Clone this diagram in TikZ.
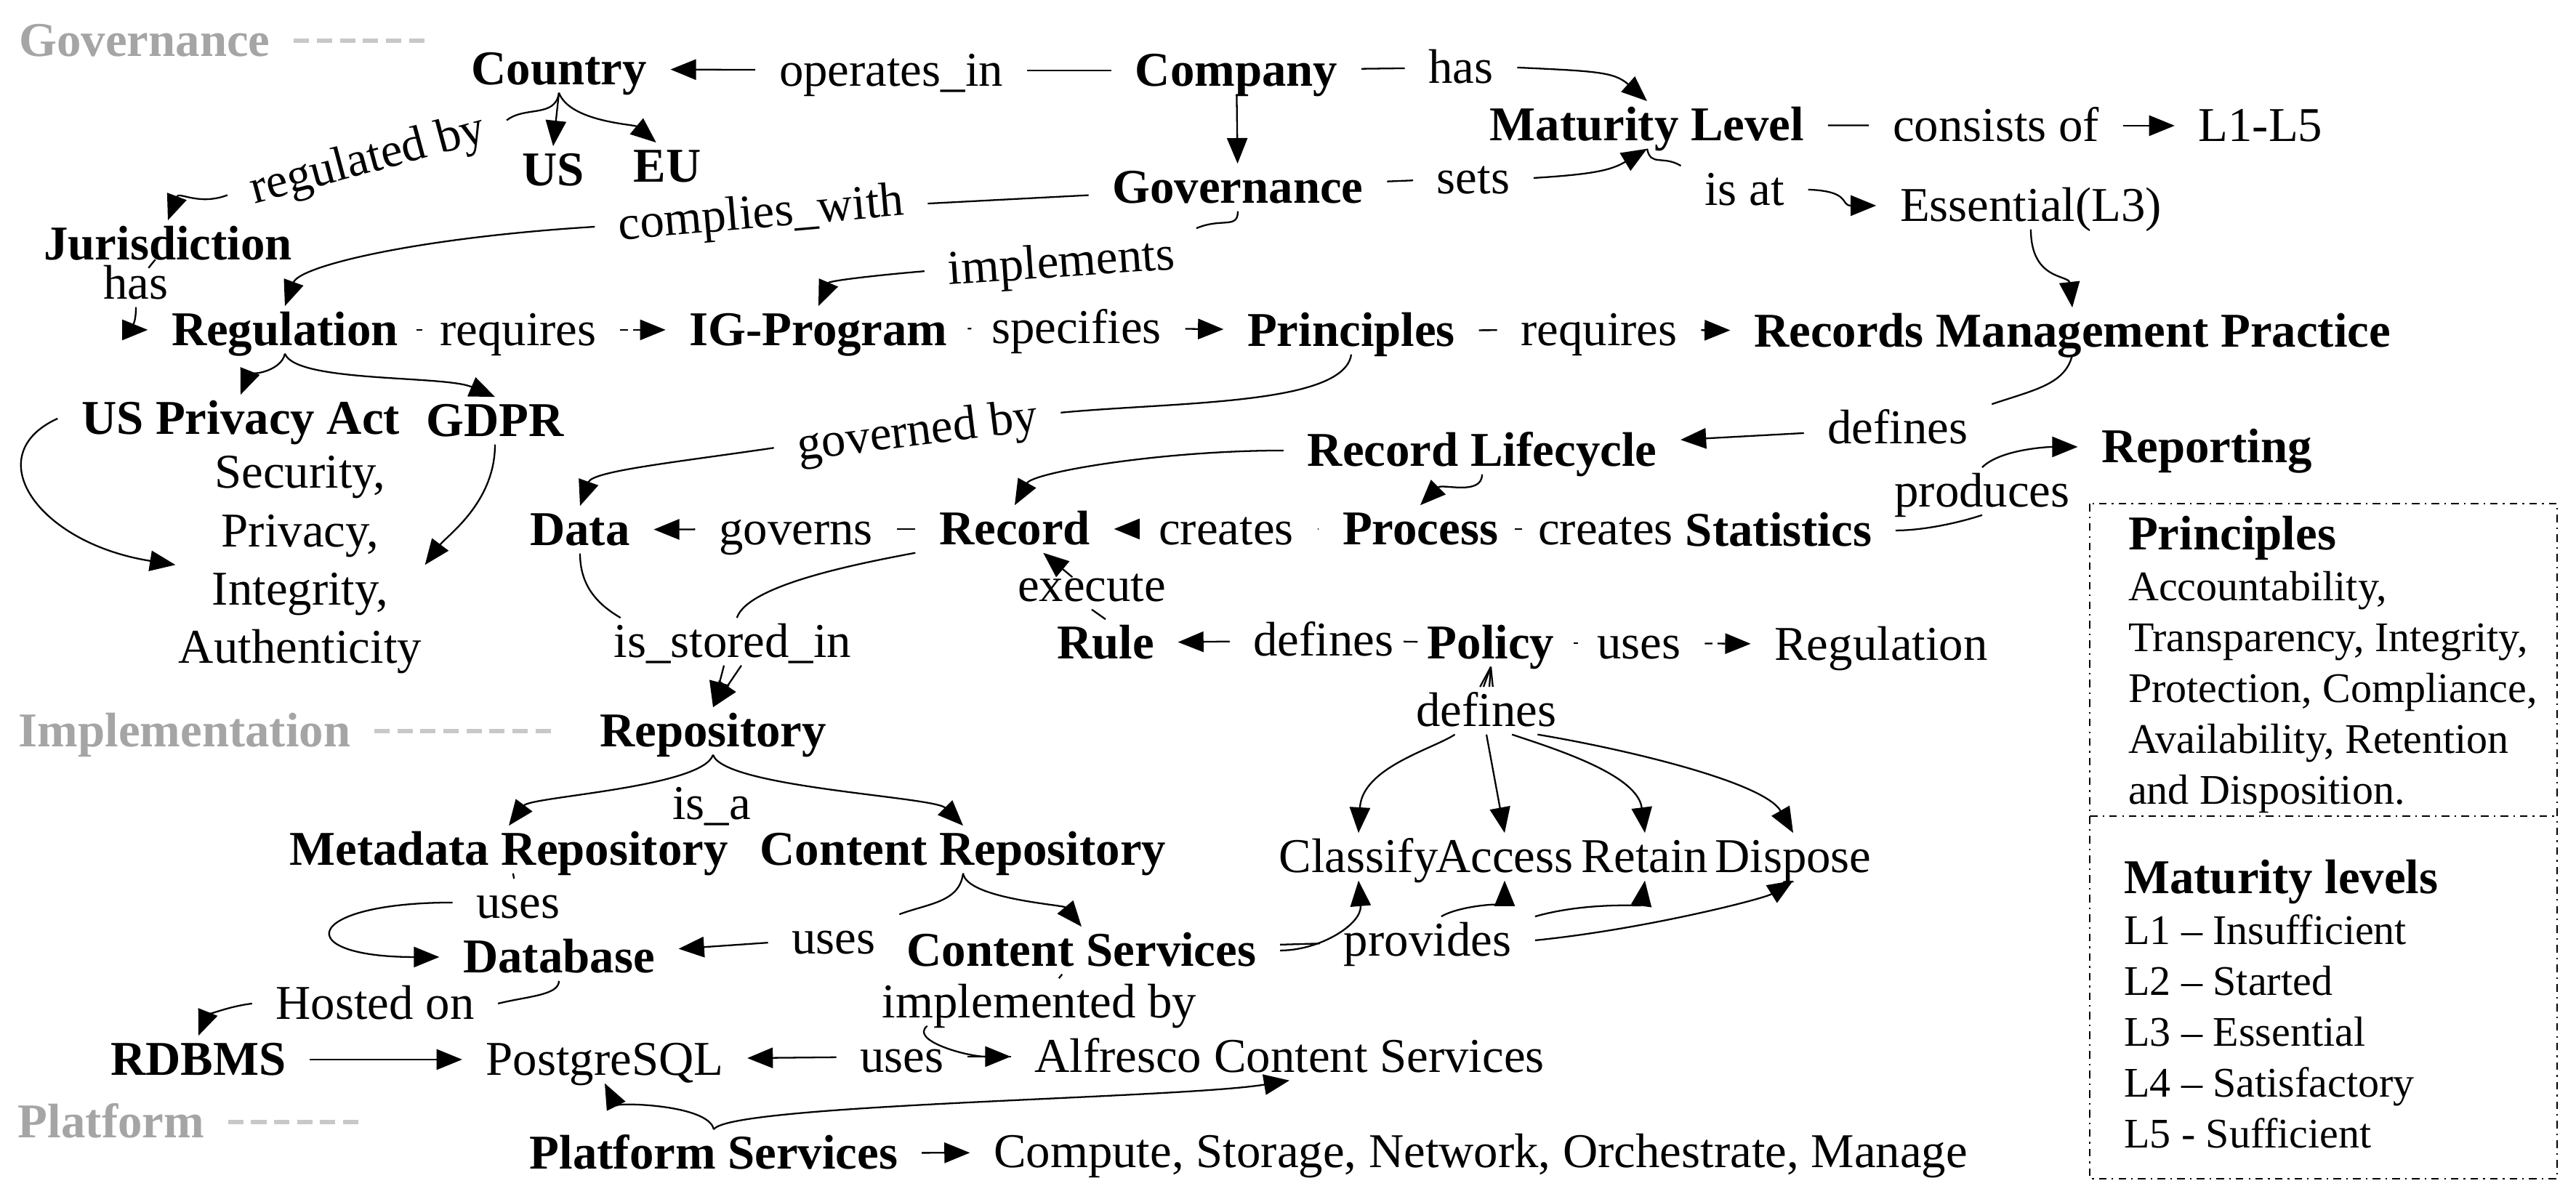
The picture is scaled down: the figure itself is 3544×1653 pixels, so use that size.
\documentclass[tikz,border=0pt]{standalone}
\usepackage{fontspec}
\setmainfont{Liberation Serif}
\usetikzlibrary{arrows.meta}
\definecolor{layergray}{RGB}{165,165,165}
\definecolor{layerdash}{RGB}{200,200,200}

\begin{document}
\begin{tikzpicture}[x=0.01cm, y=-0.01cm, line width=0.65pt, >={Triangle[length=10pt,width=8pt]},
	word/.style={font=\fontsize{19}{22.8}\selectfont, inner xsep=9pt, inner ysep=1pt, text height=14pt, text depth=2pt, anchor=base},
	ent/.style={word, font=\fontsize{19}{22.8}\selectfont\bfseries},
	val/.style={word},
	rel/.style={word},
	layer/.style={ent, text=layergray},
	layerline/.style={layerdash, line width=1.5pt, dash pattern=on 6pt off 3pt},
	legend/.style={anchor=north west, align=left, inner sep=0pt, font=\fontsize{16.5}{19.9}\selectfont}]
			\useasboundingbox (0,0) rectangle (3544,1653);
			\node[layer](govLayer) at (199,77){Governance};
			\node[layer](implLayer) at (254,1027){Implementation};
			\node[layer](platLayer) at (153,1565){Platform};
			\draw[layerline] (govLayer.east) -- ++(180,0);
			\draw[layerline] (implLayer.east) -- ++(250,0);
			\draw[layerline] (platLayer.east) -- ++(180,0);
			\node[ent](country) at (769,116){Country};
			\node[ent](us) at (761,255){US};
			\node[ent](eu) at (918,250){EU};
			\node[ent](jurisdiction) at (231,357){Jurisdiction};
			\node[ent](regulation) at (392,475){Regulation};
			\node[ent](igprogram) at (1126,475){IG-Program};
			\node[ent](principles) at (1859,476){Principles};
			\node[ent](rmp) at (2851,477){Records Management Practice};
			\node[ent](company) at (1701,118){Company};
			\node[ent](maturity) at (2266,193){Maturity Level};
			\node[ent](governance) at (1703,279){Governance};
			\node[ent](usPrivacy) at (331,597){US Privacy Act};
			\node[ent](gdpr) at (681,600){GDPR};
			\node[ent](data) at (798,750){Data};
			\node[ent](record) at (1396,749){Record};
			\node[ent](process) at (1954,749){Process};
			\node[ent](statistics) at (2447,751){Statistics};
			\node[ent](reclife) at (2039,641){Record Lifecycle};
			\node[ent](reporting) at (3036,636){Reporting};
			\node[ent](rule) at (1521,906){Rule};
			\node[ent](policy) at (2051,906){Policy};
			\node[ent](repository) at (981,1027){Repository};
			\node[ent](metaRepo) at (700,1190){Metadata Repository};
			\node[ent](contentRepo) at (1325,1190){Content Repository};
			\node[ent](database) at (769,1338){Database};
			\node[ent](contentServ) at (1488,1329){Content Services};
			\node[ent](rdbms) at (273,1479){RDBMS};
			\node[ent](platform) at (982,1608){Platform Services};
			\node[val](l15) at (3110,194){L1-L5};
			\node[val](essential) at (2794,304){Essential(L3)};
			\node[font=\fontsize{19}{22.8}\selectfont, align=center, inner sep=1pt, anchor=north](secNode) at (413,623){Security,\\Privacy,\\Integrity,\\Authenticity};
			\node[val](regPlain) at (2588,908){Regulation};
			\node[val](classify) at (1869,1200){Classify};
			\node[val](access) at (2070,1200){Access};
			\node[val](retain) at (2263,1200){Retain};
			\node[val](dispose) at (2467,1200){Dispose};
			\node[val](postgres) at (832,1479){PostgreSQL};
			\node[val](alfresco) at (1774,1475){Alfresco Content Services};
			\node[val](compute) at (2037,1606){Compute, Storage, Network, Orchestrate, Manage};
			\node[rel](opIn) at (1226,118){operates\_in};
			\node[rel](hasML) at (2010,114){has};
			\node[rel](setsML) at (2027,266){sets};
			\node[rel](isAt) at (2400,282){is at};
			\node[rel](consists) at (2746,194){consists of};
			\node[rel, anchor=center, rotate=15](regBy) at (505,217){regulated by};
			\node[rel](hasReg) at (187,411){has};
			\node[rel, anchor=center, rotate=5](compliesWith) at (1047,292){complies\_with};
			\node[rel, anchor=center, rotate=4](implements) at (1460,360){implements};
			\node[rel](req1) at (713,475){requires};
			\node[rel](specifies) at (1481,472){specifies};
			\node[rel](req2) at (2200,475){requires};
			\node[rel, anchor=center, rotate=7](governedBy) at (1262,592){governed by};
			\node[rel](defRL) at (2611,610){defines};
			\node[rel](produces) at (2727,697){produces};
			\node[rel](governs) at (1095,749){governs};
			\node[rel](creates1) at (1687,749){creates};
			\node[rel](creates2) at (2209,749){creates};
			\node[rel, text height=8pt](execute) at (1502,827){execute};
			\node[rel](defRule) at (1821,902){defines};
			\node[rel](usesReg) at (2255,906){uses};
			\node[rel](defAll) at (2045,999){defines};
			\node[rel](isStored) at (1008,904){is\_stored\_in};
			\node[rel](isA) at (979,1127){is\_a};
			\node[rel](usesDB) at (713,1263){uses};
			\node[rel](usesCR) at (1147,1312){uses};
			\node[rel](provides) at (1964,1315){provides};
			\node[rel](implBy) at (1430,1400){implemented by};
			\node[rel](hostedOn) at (516,1402){Hosted on};
			\node[rel](usesPG) at (1241,1475){uses};
			\draw (company) -- (opIn);
			\draw[->] (opIn) -- (country);
			\draw (company) -- (hasML);
			\draw[->] (hasML.east) .. controls +(110,5) and +(-45,-40) .. (maturity.north);
			\draw[->] (company) -- (governance);
			\draw (governance) -- (setsML);
			\draw[->] (setsML.east) .. controls +(80,-5) and +(-50,30) .. (maturity.south);
			\draw (maturity.south) .. controls +(5,25) and +(-25,-15) .. (isAt.north west);
			\draw[->] (isAt.east) .. controls +(60,2) and +(-50,0) .. (essential.west);
			\draw (maturity) -- (consists);
			\draw[->] (consists) -- (l15);
			\draw[->] (essential.south) .. controls +(0,70) and +(-5,-45) .. (rmp.north);
			\draw[->] (country.south) -- (us.north);
			\draw[->] (country.south) .. controls +(15,40) and +(-30,-25) .. (eu.115);
			\draw (country.south) .. controls +(-5,35) and +(25,-20) .. (regBy.east);
			\draw[->] (regBy.west) .. controls +(-40,15) and +(15,-40) .. (jurisdiction.north);
			\draw (jurisdiction) -- (hasReg);
			\draw[->] (hasReg.south) .. controls +(0,30) and +(-25,0) .. (regulation.west);
			\draw (governance) -- (compliesWith);
			\draw[->] (compliesWith.west) .. controls +(-245,15) and +(20,-55) .. (regulation.north);
			\draw (governance.south) .. controls +(0,25) and +(35,-15) .. (implements.north east);
			\draw[->] (implements.west) .. controls +(-60,5) and +(15,-35) .. (igprogram.north);
			\draw[densely dashed] (regulation) -- (req1);
			\draw[densely dashed,->] (req1) -- (igprogram);
			\draw (igprogram) -- (specifies);
			\draw[->] (specifies) -- (principles);
			\draw (principles) -- (req2);
			\draw[->] (req2) -- (rmp);
			\draw (principles.south) .. controls +(-10,70) and +(160,-15) .. (governedBy.east);
			\draw[->] (governedBy.west) .. controls +(-136,20) and +(17,-48) .. (data.north);
			\draw (rmp.south) .. controls +(-10,40) and +(60,-20) .. (defRL.north east);
			\draw[->] (defRL) -- (reclife);
			\draw[->] (reclife.west) .. controls +(-170,0) and +(25,-45) .. (record.north);
			\draw[->] (reclife.south) .. controls +(0,30) and +(30,-30) .. (process.north);
			\draw (process) -- (creates1);
			\draw[->] (creates1) -- (record);
			\draw (process) -- (creates2);
			\draw (statistics.east) .. controls +(40,0) and +(-30,10) .. (produces.south);
			\draw[->] (produces.north) .. controls +(25,-25) and +(-40,0) .. (reporting.west);
			\draw (record) -- (governs);
			\draw[->] (governs) -- (data);
			\draw (data.south) .. controls +(0,50) and +(-25,-15) .. (isStored.168);
			\draw (record.south west) .. controls +(-80,15) and +(15,-45) .. (isStored.80);
			\draw[->] (isStored.250) -- (repository.north);
			\draw[->] (isStored.290) -- (repository.north);
			\draw (rule.north) -- (execute.south);
			\draw[->] (execute) -- (record);
			\draw (policy) -- (defRule);
			\draw[->] (defRule) -- (rule);
			\draw[densely dashed] (policy) -- (usesReg);
			\draw[densely dashed,->] (usesReg) -- (regPlain);
			\draw (policy.south) -- (defAll.105);
			\draw (policy.south) -- (defAll.97);
			\draw (policy.south) -- (defAll.83);
			\draw (policy.south) -- (defAll.75);
			\draw[->] (defAll.217) .. controls +(-30,20) and +(5,-90) .. (classify.north);
			\draw[->] (defAll.south) -- (access.north);
			\draw[->] (defAll.317) .. controls +(60,20) and +(-10,-80) .. (retain.north);
			\draw[->] (defAll.335) .. controls +(120,20) and +(-40,-70) .. (dispose.north);
			\draw[->] (contentServ.east) .. controls +(55,0) and +(5,60) .. (classify.south);
			\draw (contentServ) -- (provides);
			\draw[->] (provides.60) .. controls +(25,-15) and +(0,30) .. (access.south);
			\draw[->] (provides.north east) .. controls +(70,-20) and +(-5,35) .. (retain.south);
			\draw[->] (provides.east) .. controls +(150,-15) and +(-40,25) .. (dispose.south);
			\draw[->] (repository.south) .. controls +(-15,45) and +(30,-40) .. (metaRepo.north);
			\draw[->] (repository.south) .. controls +(15,45) and +(-40,-40) .. (contentRepo.north);
			\draw (metaRepo) -- (usesDB);
			\draw[->] (usesDB.west) .. controls +(-207,0) and +(-207,0) .. (database.west);
			\draw (contentRepo.south) .. controls +(-5,40) and +(40,-15) .. (usesCR.north east);
			\draw[->] (usesCR) -- (database);
			\draw[->] (contentRepo.south) .. controls +(5,35) and +(-25,-30) .. (contentServ.north);
			\draw (database.south) .. controls +(0,20) and +(40,-10) .. (hostedOn.east);
			\draw[->] (hostedOn.west) .. controls +(-40,5) and +(10,-25) .. (rdbms.north);
			\draw[->] (rdbms) -- (postgres);
			\draw (alfresco) -- (usesPG);
			\draw[->] (usesPG) -- (postgres);
			\draw (contentServ) -- (implBy);
			\draw[->] (implBy.192) .. controls +(-25,20) and +(-60,0) .. (alfresco.west);
			\draw[->] (platform.north) .. controls +(-7,-35) and +(13,26) .. (postgres.south);
			\draw[->] (platform.north) .. controls +(20,-35) and +(-150,25) .. (alfresco.south);
			\draw[->] (platform) -- (compute);
			\draw[->] (usPrivacy.west) .. controls +(-110,50) and +(-190,-30) .. (secNode.west);
			\draw[->] (gdpr.south) .. controls +(0,80) and +(30,-40) .. (secNode.east);
			\draw[->] (regulation.south) .. controls +(-5,25) and +(10,-25) .. (usPrivacy.north);
			\draw[->] (regulation.south) .. controls +(15,40) and +(-70,-30) .. (gdpr.north);
			\draw[dashdotted, line width=0.5pt] (2875,693) rectangle (3518,1622);
			\draw[dashdotted, line width=0.5pt] (2875,1123) -- (3518,1123);
			\node[legend](legPrin) at (2927,709){{\fontsize{19}{19.9}\selectfont\bfseries Principles}\\Accountability,\\Transparency, Integrity,\\Protection, Compliance,\\Availability, Retention\\and Disposition.};
			\node[legend](legMat) at (2921,1182){{\fontsize{19}{19.9}\selectfont\bfseries Maturity levels}\\L1 -- Insufficient\\L2 -- Started\\L3 -- Essential\\L4 -- Satisfactory\\L5 - Sufficient};
\end{tikzpicture}
\end{document}
